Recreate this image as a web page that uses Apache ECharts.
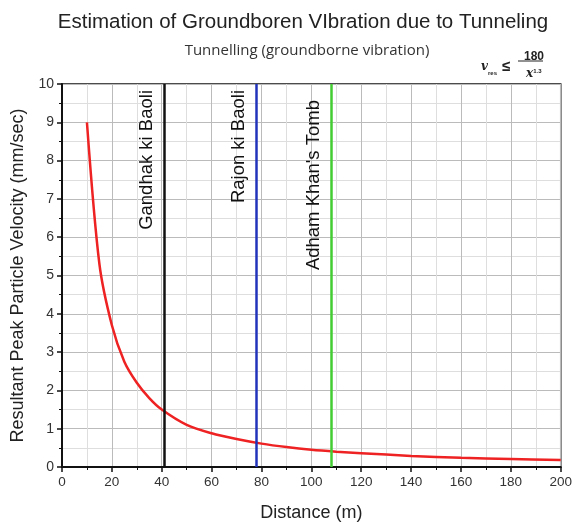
<!DOCTYPE html>
<html><head><meta charset="utf-8">
<script src="https://cdn.jsdelivr.net/npm/echarts@6/dist/echarts.min.js"></script>
<style>html,body{margin:0;padding:0;background:#fff}#c{width:575px;height:527px}</style>
</head><body><div id="c"></div>
<script>
const distances = [10, 15, 20, 25, 30, 35, 40, 50, 60, 70, 80, 90, 100, 110, 120, 140, 160, 180, 200];
const velocities = [9.0, 5.3, 3.7, 2.75, 2.2, 1.8, 1.5, 1.1, 0.88, 0.73, 0.61, 0.52, 0.45, 0.40, 0.36, 0.29, 0.24, 0.21, 0.18];
const siteNames = ["Gandhak ki Baoli", "Rajon ki Baoli", "Adham Khan's Tomb"];
const siteDistances = [41, 78, 108];
const siteColors = ["#111111", "#2233bb", "#44cc33"];
const siteLabelOffsets = [6, 6, 16];

const chart = echarts.init(document.getElementById('c'), null, {renderer: 'canvas'});
const font = 'Liberation Sans, Arial, sans-serif';
chart.setOption({
  animation: false,
  title: [
    {text: 'Estimation of Groundboren VIbration due to Tunneling', left: 298, textAlign: 'center', top: 7,
     textStyle: {fontFamily: font, fontSize: 20.5, fontWeight: 'normal', color: '#222'}},
    {text: 'Tunnelling (groundborne vibration)', left: 302, textAlign: 'center', top: 38,
     textStyle: {fontFamily: 'Open Sans, sans-serif', fontSize: 15, fontWeight: 'normal', color: '#333'}},
    {text: '{v|v}{s|res} {le|≤}', left: 476, top: 53,
     textStyle: {rich: {v: {fontFamily: 'DejaVu Serif, serif', fontStyle: 'italic', fontSize: 12, color: '#222'},
       s: {fontSize: 6, color: '#222', verticalAlign: 'bottom', padding: [6, 0, 0, 0]},
       le: {fontSize: 15, color: '#222'}}}},
    {text: '180', left: 519, top: 46, textStyle: {fontFamily: font, fontSize: 12, fontWeight: 'bold', color: '#222'}},
    {text: '{x|x}{e|1.3}', left: 521, top: 63,
     textStyle: {rich: {x: {fontFamily: 'DejaVu Serif, serif', fontStyle: 'italic', fontSize: 12, color: '#222'},
       e: {fontSize: 6, color: '#222', verticalAlign: 'top', padding: [0, 0, 6, 0]}}}}
  ],
  graphic: [{type: 'line', shape: {x1: 518, y1: 61, x2: 543, y2: 61}, style: {stroke: '#222', lineWidth: 1}}],
  grid: {left: 62, right: 13, top: 84, bottom: 60, show: true, borderColor: '#111', borderWidth: 1.5},
  xAxis: {
    type: 'value', min: 0, max: 200, interval: 20,
    name: 'Distance (m)', nameLocation: 'middle', nameGap: 37,
    nameTextStyle: {fontFamily: font, fontSize: 18, color: '#222'},
    axisLine: {lineStyle: {color: '#111', width: 2}},
    axisTick: {show: true, length: 5, lineStyle: {color: '#111', width: 1.5}},
    minorTick: {show: true, splitNumber: 2, length: 3, lineStyle: {color: '#111'}},
    axisLabel: {fontFamily: font, fontSize: 13.5, color: '#333', margin: 8},
    splitLine: {show: true, lineStyle: {color: '#bbb', width: 1}},
    minorSplitLine: {show: true, lineStyle: {color: '#dedede', width: 1}}
  },
  yAxis: {
    type: 'value', min: 0, max: 10, interval: 1,
    name: 'Resultant Peak Particle Velocity (mm/sec)', nameLocation: 'middle', nameGap: 25,
    nameTextStyle: {fontFamily: font, fontSize: 18, color: '#222'},
    axisLine: {show: true, lineStyle: {color: '#111', width: 2}},
    axisTick: {show: true, length: 5, lineStyle: {color: '#111', width: 1.5}},
    minorTick: {show: true, splitNumber: 2, length: 3, lineStyle: {color: '#111'}},
    axisLabel: {fontFamily: font, fontSize: 14, color: '#333', margin: 8},
    splitLine: {show: true, lineStyle: {color: '#bbb', width: 1}},
    minorSplitLine: {show: true, lineStyle: {color: '#dedede', width: 1}}
  },
  series: [{
    type: 'line', data: distances.map((d, i) => [d, velocities[i]]), smooth: 0.3,
    showSymbol: false, lineStyle: {color: '#ee2222', width: 2.5},
    markLine: {
      silent: true, symbol: 'none',
      data: siteDistances.map((d, i) => ({
        xAxis: d,
        lineStyle: {color: siteColors[i], width: 2.5, type: 'solid'},
        label: {show: true, formatter: siteNames[i], position: 'insideEndTop', distance: [siteLabelOffsets[i], 8],
          fontFamily: font, fontSize: 18.5, color: '#111'}
      }))
    }
  }]
});
</script></body></html>
